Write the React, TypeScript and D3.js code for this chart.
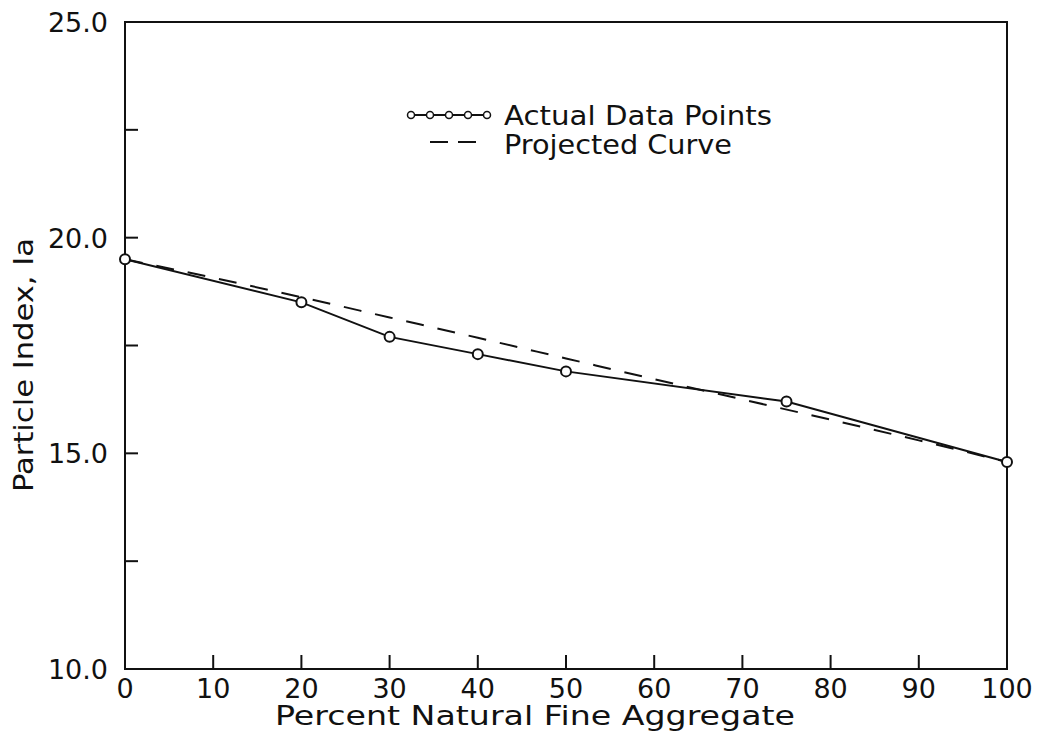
import React, { useEffect, useRef } from "react";
import * as d3 from "d3";

// values
const percentNatural = [0, 20, 30, 40, 50, 75, 100];
const particleIndex = [19.5, 18.5, 17.7, 17.3, 16.9, 16.2, 14.8];

const projectedX = [0, 10, 20, 30, 40, 50, 60, 70, 80, 90, 100];
const projectedY = [19.5, 19.07, 18.62, 18.15, 17.68, 17.2, 16.72, 16.25, 15.78, 15.3, 14.8];

const xTicks = [0, 10, 20, 30, 40, 50, 60, 70, 80, 90, 100];
const yMajorTicks = [10, 15, 20, 25];
const yMinorTicks = [12.5, 17.5, 22.5];

const svgWidth = 1039;
const svgHeight = 736;
const font = "'DejaVu Sans', 'Liberation Sans', sans-serif";

function App() {
  const svgRef = useRef<SVGSVGElement>(null);

  useEffect(() => {
    const svg = d3.select(svgRef.current);
    svg.selectAll("*").remove();

    const margin = { top: 22, right: 32, bottom: 67, left: 125 };
    const width = svgWidth - margin.left - margin.right;
    const height = svgHeight - margin.top - margin.bottom;

    const g = svg
      .append("g")
      .attr("transform", `translate(${margin.left},${margin.top})`);

    const x = d3.scaleLinear().domain([0, 100]).range([0, width]);
    const y = d3.scaleLinear().domain([10, 25]).range([height, 0]);

    // frame
    g.append("rect")
      .attr("width", width)
      .attr("height", height)
      .attr("fill", "none")
      .attr("stroke", "#111")
      .attr("stroke-width", 2);

    // x ticks (inward)
    g.selectAll(".xtick")
      .data(xTicks.slice(1, -1))
      .enter()
      .append("line")
      .attr("x1", (d) => x(d))
      .attr("x2", (d) => x(d))
      .attr("y1", height)
      .attr("y2", height - 14)
      .attr("stroke", "#111")
      .attr("stroke-width", 2);

    g.selectAll(".xlabel")
      .data(xTicks)
      .enter()
      .append("text")
      .attr("x", (d) => x(d))
      .attr("y", height + 29)
      .attr("text-anchor", "middle")
      .style("font-family", font)
      .style("font-size", "27px")
      .attr("fill", "#111")
      .text((d) => String(d));

    // y ticks (inward)
    g.selectAll(".ytick")
      .data([...yMajorTicks.slice(1, -1), ...yMinorTicks])
      .enter()
      .append("line")
      .attr("x1", 0)
      .attr("x2", 13)
      .attr("y1", (d) => y(d))
      .attr("y2", (d) => y(d))
      .attr("stroke", "#111")
      .attr("stroke-width", 2);

    g.selectAll(".ylabel")
      .data(yMajorTicks)
      .enter()
      .append("text")
      .attr("x", -17)
      .attr("y", (d) => y(d) + 10)
      .attr("text-anchor", "end")
      .style("font-family", font)
      .style("font-size", "27px")
      .attr("fill", "#111")
      .text((d) => d.toFixed(1));

    // axis titles
    svg
      .append("text")
      .attr("x", 535)
      .attr("y", 725)
      .attr("text-anchor", "middle")
      .attr("textLength", 520)
      .attr("lengthAdjust", "spacingAndGlyphs")
      .style("font-family", font)
      .style("font-size", "26px")
      .attr("fill", "#111")
      .text("Percent Natural Fine Aggregate");

    svg
      .append("text")
      .attr("transform", "translate(33,365) rotate(-90)")
      .attr("text-anchor", "middle")
      .attr("textLength", 254)
      .attr("lengthAdjust", "spacingAndGlyphs")
      .style("font-family", font)
      .style("font-size", "26px")
      .attr("fill", "#111")
      .text("Particle Index, Ia");

    // projected curve
    const projected = projectedX.map((d, i) => [d, projectedY[i]] as [number, number]);
    g.append("path")
      .datum(projected)
      .attr("fill", "none")
      .attr("stroke", "#111")
      .attr("stroke-width", 2)
      .attr("stroke-dasharray", "18,14")
      .attr(
        "d",
        d3
          .line<[number, number]>()
          .x((d) => x(d[0]))
          .y((d) => y(d[1]))
          .curve(d3.curveMonotoneX)
      );

    // actual data
    const actual = percentNatural.map((d, i) => [d, particleIndex[i]] as [number, number]);
    g.append("path")
      .datum(actual)
      .attr("fill", "none")
      .attr("stroke", "#111")
      .attr("stroke-width", 2)
      .attr(
        "d",
        d3
          .line<[number, number]>()
          .x((d) => x(d[0]))
          .y((d) => y(d[1]))
      );

    g.selectAll(".point")
      .data(actual)
      .enter()
      .append("circle")
      .attr("cx", (d) => x(d[0]))
      .attr("cy", (d) => y(d[1]))
      .attr("r", 5)
      .attr("fill", "white")
      .attr("stroke", "#111")
      .attr("stroke-width", 2);

    // legend
    const legend = svg.append("g");
    legend
      .append("line")
      .attr("x1", 408)
      .attr("x2", 488)
      .attr("y1", 115)
      .attr("y2", 115)
      .attr("stroke", "#111")
      .attr("stroke-width", 2);
    legend
      .selectAll("circle")
      .data(d3.range(5))
      .enter()
      .append("circle")
      .attr("cx", (d) => 411 + d * 19)
      .attr("cy", 115)
      .attr("r", 3.5)
      .attr("fill", "white")
      .attr("stroke", "#111")
      .attr("stroke-width", 1.5);
    legend
      .append("line")
      .attr("x1", 430)
      .attr("x2", 477)
      .attr("y1", 142)
      .attr("y2", 142)
      .attr("stroke", "#111")
      .attr("stroke-width", 2)
      .attr("stroke-dasharray", "18,10");
    legend
      .append("text")
      .attr("x", 504)
      .attr("y", 125)
      .attr("textLength", 268)
      .attr("lengthAdjust", "spacingAndGlyphs")
      .style("font-family", font)
      .style("font-size", "27px")
      .attr("fill", "#111")
      .text("Actual Data Points");
    legend
      .append("text")
      .attr("x", 504)
      .attr("y", 154)
      .attr("textLength", 228)
      .attr("lengthAdjust", "spacingAndGlyphs")
      .style("font-family", font)
      .style("font-size", "27px")
      .attr("fill", "#111")
      .text("Projected Curve");
  }, []);

  return (
    <svg
      ref={svgRef}
      width={svgWidth}
      height={svgHeight}
      style={{ position: "absolute", left: 0, top: 0, background: "white" }}
    ></svg>
  );
}

export default App;
